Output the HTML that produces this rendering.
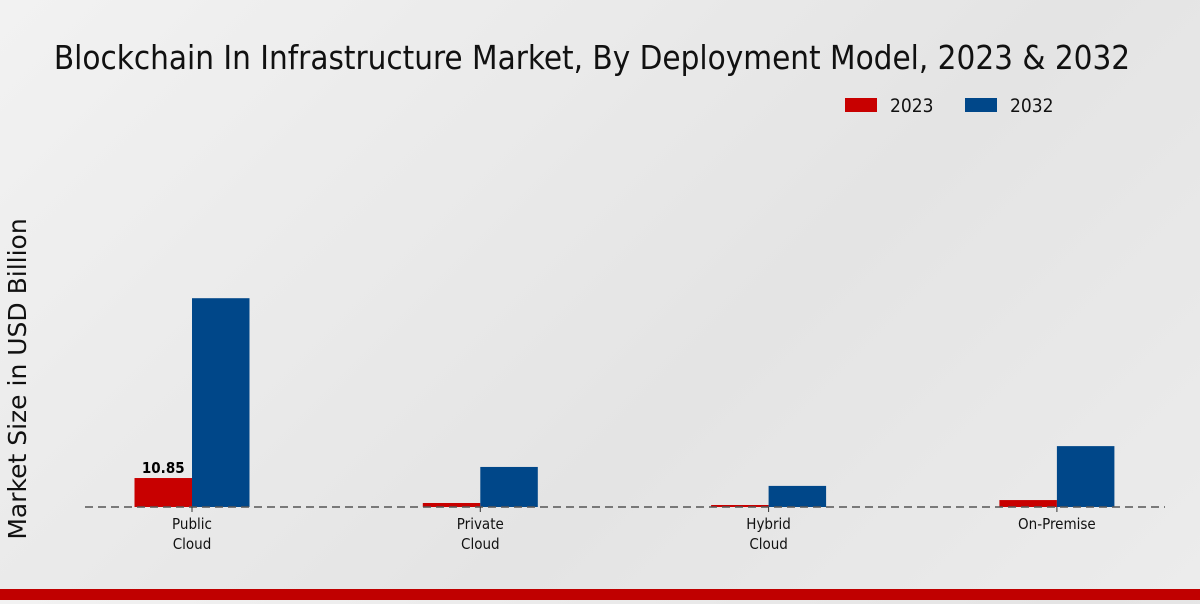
<!DOCTYPE html>
<html><head><meta charset="utf-8"><style>
html,body{margin:0;padding:0;}
body{width:1200px;height:600px;overflow:hidden;background:linear-gradient(135deg,#f2f2f2 0%,#e4e4e4 60%,#ececec 100%);font-family:"DejaVu Sans Condensed","DejaVu Sans","Liberation Sans",sans-serif;font-stretch:condensed;}
svg text{font-family:"DejaVu Sans Condensed","DejaVu Sans","Liberation Sans",sans-serif;font-stretch:condensed;}
</style></head><body>
<svg id="chart" width="1200" height="600">
<text x="592" y="69" text-anchor="middle" font-size="32.9" fill="#111">Blockchain In Infrastructure Market, By Deployment Model, 2023 &amp; 2032</text>
<g>
<rect x="845" y="98" width="32" height="14" fill="#c80000"/>
<text x="890" y="112" font-size="19" fill="#111">2023</text>
<rect x="965" y="98" width="32" height="14" fill="#004789"/>
<text x="1010" y="112" font-size="19" fill="#111">2032</text>
</g>
<text transform="translate(26,379) rotate(-90)" text-anchor="middle" font-size="25" fill="#111" style="font-family:'DejaVu Sans',sans-serif;font-stretch:normal">Market Size in USD Billion</text>
<g id="bars"></g>
<line x1="85" y1="507" x2="1165" y2="507" stroke="#555" stroke-width="1.5" stroke-dasharray="8,5"/>
<g id="xlabels"></g>
<rect x="0" y="589" width="1200" height="11" fill="#c00000"/>
</svg>
<script>
const categories = [["Public","Cloud"],["Private","Cloud"],["Hybrid","Cloud"],["On-Premise"]];
const values2023 = [10.85, 1.5, 0.75, 2.6];
const values2032 = [78.2, 15.0, 7.9, 22.8];
const labelShown = ["10.85", null, null, null];
const NS="http://www.w3.org/2000/svg";
const base=507, scale=2.67, x0=192, step=288.3, bw=57.5;
const y=v=>base-v*scale;
const xc=i=>x0+i*step;
const bars=document.getElementById('bars'), xl=document.getElementById('xlabels');
categories.forEach((c,i)=>{
  [[values2023,'#c80000',-bw,'2023'],[values2032,'#004789',0,'2032']].forEach(([arr,col,off,yr])=>{
    const r=document.createElementNS(NS,'rect');
    r.setAttribute('x',xc(i)+off);r.setAttribute('y',y(arr[i]));
    r.setAttribute('width',bw);r.setAttribute('height',base-y(arr[i]));
    r.setAttribute('fill',col);
    
    
    bars.appendChild(r);
  });
  if(labelShown[i]){
    const t=document.createElementNS(NS,'text');
    t.setAttribute('x',xc(i)-bw/2);t.setAttribute('y',y(values2023[i])-5);
    t.setAttribute('text-anchor','middle');t.setAttribute('font-size','15');t.setAttribute('font-weight','bold');
    t.textContent=labelShown[i];
    
    
    bars.appendChild(t);
  }
  const tk=document.createElementNS(NS,'line');
  tk.setAttribute('x1',xc(i));tk.setAttribute('x2',xc(i));tk.setAttribute('y1',base);tk.setAttribute('y2',base+5);tk.setAttribute('stroke','#333');
  
  
  xl.appendChild(tk);
  c.forEach((ln,j)=>{
    const t=document.createElementNS(NS,'text');
    t.setAttribute('x',xc(i));t.setAttribute('y',529+j*20);
    t.setAttribute('text-anchor','middle');t.setAttribute('font-size','15');t.setAttribute('fill','#111');
    t.textContent=ln;
    
    
    xl.appendChild(t);
  });
});
</script>
</body></html>
